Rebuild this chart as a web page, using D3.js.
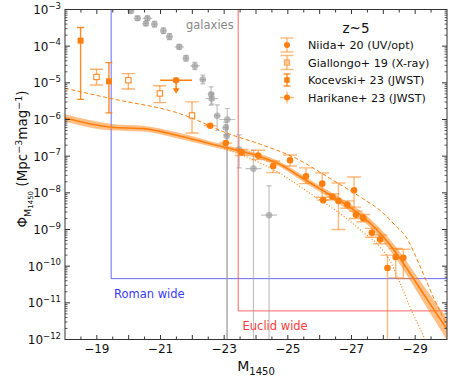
<!DOCTYPE html>
<html><head><meta charset="utf-8">
<script src="https://cdn.jsdelivr.net/npm/d3@7"></script>
<style>body{margin:0;background:#fff} svg{display:block;font-family:"DejaVu Sans",sans-serif}</style>
</head><body><svg id="c" width="452" height="377"></svg>
<script>
// ---- data (log10 Phi values) ----
const modelM   = [-18.0,-19.45,-20.46,-21.51,-22.56,-23.08,-23.60,-24.23,-24.75,-25.28,-25.80,-26.33,-26.85,-27.37,-27.90,-28.42,-28.94,-29.47,-30.0];
const modelLog = [-5.96,-6.21,-6.25,-6.43,-6.66,-6.77,-6.88,-7.04,-7.22,-7.50,-7.78,-8.06,-8.34,-8.66,-9.10,-9.66,-10.33,-11.03,-11.72];
const bandHiLog= [-5.86,-6.12,-6.17,-6.35,-6.59,-6.70,-6.81,-6.97,-7.15,-7.42,-7.70,-7.97,-8.24,-8.55,-8.97,-9.50,-10.13,-10.78,-11.42];
const bandLoLog= [-6.06,-6.30,-6.33,-6.51,-6.73,-6.84,-6.95,-7.11,-7.29,-7.58,-7.86,-8.15,-8.44,-8.77,-9.23,-9.82,-10.53,-11.28,-12.02];
const dashM    = [-18.0,-19.45,-21.61,-23.18,-24.22,-25.28,-26.33,-27.36,-27.90,-28.42,-28.74,-29.0,-29.3,-29.6,-30.0];
const dashLog  = [-5.15,-5.43,-5.84,-6.40,-6.70,-7.07,-7.61,-8.16,-8.48,-8.93,-9.24,-9.70,-10.30,-10.90,-11.60];
const dotM     = [-23.0,-23.71,-24.75,-25.79,-26.85,-27.36,-27.90,-28.21,-28.53,-28.84,-29.15,-29.47];
const dotLog   = [-6.80,-7.02,-7.47,-8.07,-8.70,-9.07,-9.48,-9.85,-10.47,-11.12,-11.70,-12.30];

const galM    = [-20.07,-20.28,-20.59,-20.54,-20.81,-21.09,-21.28,-21.59,-21.80,-22.08,-22.33,-22.59,-22.61,-22.78,-23.10,-23.05,-23.08,-23.47,-23.92,-24.41];
const galLog  = [-3.04,-3.24,-3.24,-3.38,-3.40,-3.58,-3.74,-4.02,-4.33,-4.54,-4.91,-5.31,-5.43,-5.90,-6.00,-6.22,-6.45,-6.82,-7.34,-8.61];
const galXerr = [0.1,0.1,0.15,0.1,0.1,0.1,0.1,0.15,0.1,0.15,0.1,0.1,0.2,0.1,0.25,0.1,0.1,0.1,0.25,0.25];
const galUp   = [0.05,0.06,0.06,0.06,0.08,0.08,0.08,0.06,0.08,0.1,0.12,0.2,0.15,0.3,0.3,0.15,0.3,0.4,0.5,0.8];
const galDn   = [0.05,0.06,0.06,0.06,0.08,0.08,0.08,0.06,0.08,0.1,0.12,0.3,0.15,0.4,9,0.2,9,0.5,9,9];

const niidaM   = [-23.55,-24.07,-24.54,-25.07,-25.57,-26.08,-26.40,-26.59,-26.87,-27.08,-27.14,-27.37,-27.64,-27.90,-28.13,-28.39,-28.63];
const niidaLog = [-6.90,-6.98,-7.27,-7.11,-7.55,-7.75,-8.11,-8.22,-8.32,-7.93,-8.60,-8.69,-9.09,-9.27,-10.05,-9.75,-9.77];
const niidaUp  = [0.08,0.14,0.14,0.14,0.23,0.29,0.08,0.49,0.10,0.36,0.10,0.10,0.12,0.12,0.35,0.23,0.23];
const niidaDn  = [0.08,0.11,0.18,0.16,0.20,0.37,0.08,0.78,0.10,0.46,0.10,0.10,0.12,0.12,9,0.57,0.57];

const giallongoM   = [-18.99,-19.99,-20.98,-21.99];
const giallongoLog = [-4.84,-4.93,-5.29,-5.89];
const giallongoUp  = [0.21,0.18,0.21,0.37];
const giallongoDn  = [0.22,0.24,0.25,0.48];

const kocevskiM   = [-18.49,-19.38];
const kocevskiLog = [-3.85,-4.96];
const kocevskiUp  = [0.36,0.51];
const kocevskiDn  = [1.60,0.86];

const harikaneM    = [-22.56,-23.05,-26.11];
const harikaneLog  = [-6.17,-6.64,-8.20];
const harikaneXerr = [0.2,0.2,0.2];
const harikaneUp   = [0.04,0.06,0.08];
const harikaneDn   = [0.04,0.06,0.08];
const harikaneLimM = [-21.49], harikaneLimLog = [-4.93], harikaneLimXerr = [0.5];

const romanLim  = [-19.45, -10.34];
const euclidLim = [-23.44, -11.22];

const xTickLabels = [-19,-21,-23,-25,-27,-29];
const yTickExp = [-3,-4,-5,-6,-7,-8,-9,-10,-11,-12];
const legendTitle = "z~5";
const legendLabels = ["Niida+ 20 (UV/opt)","Giallongo+ 19 (X-ray)","Kocevski+ 23 (JWST)","Harikane+ 23 (JWST)"];

// ---- drawing ----
const ORANGE = "#ff7f0e";
const svg = d3.select("#c");
const L=65, R=447, T=9.5, B=339.5;
const x = d3.scaleLinear().domain([-18,-30]).range([L,R]);
const y = d3.scaleLog().domain([1e-12,1e-3]).range([B,T]);
const Y = v => y(Math.pow(10, v));

svg.append("defs").append("clipPath").attr("id","clip")
  .append("rect").attr("x",L).attr("y",T).attr("width",R-L).attr("height",B-T);
const g = svg.append("g").attr("clip-path","url(#clip)");

// survey boxes
g.append("path").attr("d",`M${x(romanLim[0])},${T-2}V${Y(romanLim[1])}H${R+2}`)
  .attr("fill","none").attr("stroke","#5050ff").attr("stroke-opacity",0.85).attr("stroke-width",1);
g.append("path").attr("d",`M${x(euclidLim[0])},${T-2}V${Y(euclidLim[1])}H${R+2}`)
  .attr("fill","none").attr("stroke","#ff4a4a").attr("stroke-opacity",0.85).attr("stroke-width",1);

// galaxies
const gal = galM.map((m,i)=>({m,l:galLog[i],xe:galXerr[i],up:galUp[i],dn:galDn[i]}));
const gg = g.append("g").attr("stroke","#9a9a9a").attr("stroke-opacity",0.6).attr("stroke-width",1.2);
gal.forEach(d=>{
  gg.append("line").attr("x1",x(d.m)).attr("x2",x(d.m)).attr("y1",Y(d.l+d.up)).attr("y2",Y(d.l-d.dn));
  gg.append("line").attr("x1",x(d.m-d.xe)).attr("x2",x(d.m+d.xe)).attr("y1",Y(d.l)).attr("y2",Y(d.l));
  gg.append("line").attr("x1",x(d.m)-2.5).attr("x2",x(d.m)+2.5).attr("y1",Y(d.l+d.up)).attr("y2",Y(d.l+d.up));
  if(d.dn<5) gg.append("line").attr("x1",x(d.m)-2.5).attr("x2",x(d.m)+2.5).attr("y1",Y(d.l-d.dn)).attr("y2",Y(d.l-d.dn));
});
g.append("g").selectAll("circle").data(gal).join("circle")
  .attr("cx",d=>x(d.m)).attr("cy",d=>Y(d.l)).attr("r",3.3).attr("fill","#999").attr("fill-opacity",0.65);

// model band and curves
const band = modelM.map((m,i)=>({m,hi:bandHiLog[i],lo:bandLoLog[i],c:modelLog[i]}));
g.append("path").datum(band).attr("fill",ORANGE).attr("fill-opacity",0.5)
  .attr("d",d3.area().x(d=>x(d.m)).y0(d=>Y(d.lo)).y1(d=>Y(d.hi)).curve(d3.curveMonotoneX));
g.append("path").datum(band).attr("fill","none").attr("stroke",ORANGE).attr("stroke-width",1.6)
  .attr("d",d3.line().x(d=>x(d.m)).y(d=>Y(d.c)).curve(d3.curveMonotoneX));
g.append("path").datum(dashM.map((m,i)=>[m,dashLog[i]])).attr("fill","none").attr("stroke",ORANGE)
  .attr("stroke-width",1).attr("stroke-dasharray","4,2.5")
  .attr("d",d3.line().x(d=>x(d[0])).y(d=>Y(d[1])).curve(d3.curveMonotoneX));
g.append("path").datum(dotM.map((m,i)=>[m,dotLog[i]])).attr("fill","none").attr("stroke",ORANGE)
  .attr("stroke-width",1.1).attr("stroke-dasharray","1,2")
  .attr("d",d3.line().x(d=>x(d[0])).y(d=>Y(d[1])).curve(d3.curveMonotoneX));

// error bar helper
function errbar(parent, m, l, up, dn, xe, cap, op){
  const e = parent.append("g").attr("stroke",ORANGE).attr("stroke-opacity",op).attr("stroke-width",1.4);
  e.append("line").attr("x1",x(m)).attr("x2",x(m)).attr("y1",Y(l+up)).attr("y2",Y(l-dn));
  if(cap>0){
    e.append("line").attr("x1",x(m)-cap).attr("x2",x(m)+cap).attr("y1",Y(l+up)).attr("y2",Y(l+up));
    if(dn<5) e.append("line").attr("x1",x(m)-cap).attr("x2",x(m)+cap).attr("y1",Y(l-dn)).attr("y2",Y(l-dn));
  }
  if(xe>0) e.append("line").attr("x1",x(m-xe)).attr("x2",x(m+xe)).attr("y1",Y(l)).attr("y2",Y(l));
}
const pg = g.append("g");
// Giallongo
giallongoM.forEach((m,i)=>errbar(pg,m,giallongoLog[i],giallongoUp[i],giallongoDn[i],0,6.5,0.6));
pg.append("g").selectAll("rect").data(giallongoM).join("rect")
  .attr("x",d=>x(d)-2.7).attr("y",(d,i)=>Y(giallongoLog[i])-2.7).attr("width",5.4).attr("height",5.4)
  .attr("fill","#fff").attr("stroke",ORANGE).attr("stroke-width",1);
// Kocevski
kocevskiM.forEach((m,i)=>errbar(pg,m,kocevskiLog[i],kocevskiUp[i],kocevskiDn[i],0,3.5,0.9));
pg.append("g").selectAll("rect").data(kocevskiM).join("rect")
  .attr("x",d=>x(d)-3).attr("y",(d,i)=>Y(kocevskiLog[i])-3).attr("width",6).attr("height",6)
  .attr("fill",ORANGE);
// Niida
niidaM.forEach((m,i)=>errbar(pg,m,niidaLog[i],niidaUp[i],niidaDn[i],0,7,0.55));
pg.append("g").selectAll("circle").data(niidaM).join("circle")
  .attr("cx",d=>x(d)).attr("cy",(d,i)=>Y(niidaLog[i])).attr("r",3.3).attr("fill",ORANGE);
// Harikane
harikaneM.forEach((m,i)=>errbar(pg,m,harikaneLog[i],harikaneUp[i],harikaneDn[i],harikaneXerr[i],0,0.55));
pg.append("g").selectAll("circle").data(harikaneM).join("circle")
  .attr("cx",d=>x(d)).attr("cy",(d,i)=>Y(harikaneLog[i])).attr("r",3.3).attr("fill",ORANGE);
harikaneLimM.forEach((m,i)=>{
  const cx=x(m), cy=Y(harikaneLimLog[i]);
  pg.append("line").attr("x1",x(m-harikaneLimXerr[i])).attr("x2",x(m+harikaneLimXerr[i])).attr("y1",cy).attr("y2",cy)
    .attr("stroke",ORANGE).attr("stroke-width",1.4);
  pg.append("line").attr("x1",cx).attr("x2",cx).attr("y1",cy).attr("y2",cy+10).attr("stroke",ORANGE).attr("stroke-width",1.4);
  pg.append("path").attr("d",`M${cx-3.5},${cy+8}L${cx+3.5},${cy+8}L${cx},${cy+13.5}Z`).attr("fill",ORANGE);
  pg.append("circle").attr("cx",cx).attr("cy",cy).attr("r",3.3).attr("fill",ORANGE);
});

// axes frame & ticks (inward, all sides)
const ax = svg.append("g").attr("stroke","#333").attr("stroke-width",1);
ax.append("rect").attr("x",L).attr("y",T).attr("width",R-L).attr("height",B-T).attr("fill","none");
d3.range(-18.5,-30,-0.5).forEach(v=>{
  const len = Number.isInteger(v)?4.5:3;
  ax.append("line").attr("x1",x(v)).attr("x2",x(v)).attr("y1",B).attr("y2",B-len);
  ax.append("line").attr("x1",x(v)).attr("x2",x(v)).attr("y1",T).attr("y2",T+len);
});
yTickExp.forEach(e=>{
  const yy = Y(e);
  ax.append("line").attr("x1",L).attr("x2",L+5).attr("y1",yy).attr("y2",yy);
  ax.append("line").attr("x1",R).attr("x2",R-5).attr("y1",yy).attr("y2",yy);
  if(e>-12) for(let k=2;k<=9;k++){
    const ym = y(k*Math.pow(10,e-1));
    ax.append("line").attr("x1",L).attr("x2",L+2.5).attr("y1",ym).attr("y2",ym).attr("stroke-width",0.8);
    ax.append("line").attr("x1",R).attr("x2",R-2.5).attr("y1",ym).attr("y2",ym).attr("stroke-width",0.8);
  }
});
// tick labels
svg.append("g").selectAll("text").data(xTickLabels).join("text")
  .attr("x",d=>x(d)).attr("y",352.5).attr("text-anchor","middle").attr("font-size",12).attr("fill","#111")
  .text(d=>"\u2212"+Math.abs(d));
const yl = svg.append("g").selectAll("text").data(yTickExp).join("text")
  .attr("x",61).attr("y",d=>Y(d)+4.5).attr("text-anchor","end").attr("font-size",12).attr("fill","#111");
yl.append("tspan").text("10");
yl.append("tspan").attr("dy",-5.5).attr("font-size",8.5).text(d=>"\u2212"+Math.abs(d));

// axis titles
const xt = svg.append("text").attr("x",256).attr("y",371).attr("text-anchor","middle").attr("font-size",14).attr("fill","#111");
xt.append("tspan").text("M");
xt.append("tspan").attr("dy",3.5).attr("font-size",10).text("1450");
const yt = svg.append("text").attr("transform","translate(27,159) rotate(-90)").attr("text-anchor","middle")
  .attr("font-size",13.5).attr("fill","#111");
yt.append("tspan").text("\u03A6");
yt.append("tspan").attr("dy",3.5).attr("font-size",9.5).text("M");
yt.append("tspan").attr("dy",2).attr("font-size",7).text("1450");
yt.append("tspan").attr("dy",-5.5).text(" (Mpc");
yt.append("tspan").attr("dy",-5).attr("font-size",9.5).text("\u22123");
yt.append("tspan").attr("dy",5).text("mag");
yt.append("tspan").attr("dy",-5).attr("font-size",9.5).text("\u22121");
yt.append("tspan").attr("dy",5).text(")");

// annotations
svg.append("text").attr("x",186).attr("y",29).attr("font-size",11.5).attr("fill","#888").text("galaxies");
svg.append("text").attr("x",114).attr("y",298).attr("font-size",11.5).attr("fill","#3a3aff").text("Roman wide");
svg.append("text").attr("x",242.5).attr("y",330).attr("font-size",11.5).attr("fill","#ff3c3c").text("Euclid wide");

// legend
const lg = svg.append("g");
lg.append("text").attr("x",356).attr("y",33).attr("text-anchor","middle").attr("font-size",13.5).attr("fill","#111").text(legendTitle);
const rowsY = [45,62.5,80,97.5];
legendLabels.forEach((t,i)=>{
  lg.append("text").attr("x",308).attr("y",rowsY[i]+4).attr("font-size",11.2).attr("fill","#111").text(t);
});
const mx = 287;
function lbar(cy, half, cap, op, xe){
  const e = lg.append("g").attr("stroke",ORANGE).attr("stroke-opacity",op).attr("stroke-width",1.4);
  e.append("line").attr("x1",mx).attr("x2",mx).attr("y1",cy-half).attr("y2",cy+half);
  if(cap>0){
    e.append("line").attr("x1",mx-cap).attr("x2",mx+cap).attr("y1",cy-half).attr("y2",cy-half);
    e.append("line").attr("x1",mx-cap).attr("x2",mx+cap).attr("y1",cy+half).attr("y2",cy+half);
  }
  if(xe>0) e.append("line").attr("x1",mx-xe).attr("x2",mx+xe).attr("y1",cy).attr("y2",cy);
}
lbar(rowsY[0],7,6.5,0.55,0); lg.append("circle").attr("cx",mx).attr("cy",rowsY[0]).attr("r",3).attr("fill",ORANGE);
lbar(rowsY[1],7,6.5,0.55,0); lg.append("rect").attr("x",mx-2.7).attr("y",rowsY[1]-2.7).attr("width",5.4).attr("height",5.4).attr("fill","#ffc896").attr("stroke",ORANGE).attr("stroke-opacity",0.6);
lbar(rowsY[2],6,3.5,0.9,0); lg.append("rect").attr("x",mx-2.7).attr("y",rowsY[2]-2.7).attr("width",5.4).attr("height",5.4).attr("fill",ORANGE);
lbar(rowsY[3],6,0,0.55,7); lg.append("circle").attr("cx",mx).attr("cy",rowsY[3]).attr("r",3).attr("fill",ORANGE);
</script></body></html>
